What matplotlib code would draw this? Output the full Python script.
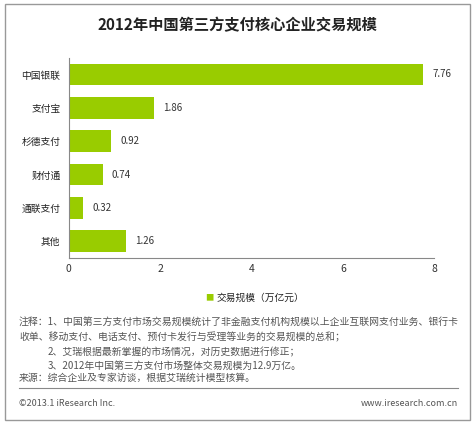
import matplotlib
matplotlib.use("Agg")
import matplotlib.pyplot as plt
from matplotlib.patches import Rectangle
from matplotlib.lines import Line2D

plt.rcParams['font.family'] = ['Noto Sans CJK SC', 'DejaVu Sans']

categories = ["中国银联", "支付宝", "杉德支付", "财付通", "通联支付", "其他"]
values = [7.76, 1.86, 0.92, 0.74, 0.32, 1.26]
xticks = [0, 2, 4, 6, 8]
green = "#99CC00"
gray = "#555555"

fig = plt.figure(figsize=(4.75, 4.25), dpi=100)
fig.patches.append(Rectangle((0.01, 0.012), 0.98, 0.978, transform=fig.transFigure,
                             fill=False, edgecolor="#999999", lw=1))
fig.text(0.5, 0.94, "2012年中国第三方支付核心企业交易规模", ha="center", va="center",
         fontsize=11, fontweight="bold", color="#222222")

ax = fig.add_axes([0.145, 0.393, 0.769, 0.471])
y = list(range(len(categories)))
ax.barh(y, values, height=0.65, color=green)
ax.set_xlim(0, 8)
ax.set_ylim(5.5, -0.5)
ax.set_xticks(xticks)
ax.set_yticks(y)
ax.set_yticklabels(categories, fontsize=7, color="#222222")
ax.tick_params(axis='x', labelsize=7.5, colors="#333333", length=0, pad=4)
ax.tick_params(axis='y', length=0, pad=6)
for s in ["top", "right"]:
    ax.spines[s].set_visible(False)
for s in ["left", "bottom"]:
    ax.spines[s].set_color("#888888")
for yi, v in zip(y, values):
    ax.text(v + 0.2, yi, f"{v:.2f}", va="center", ha="left", fontsize=7, color="#333333")

fig.text(0.44, 0.299, "■", color=green, fontsize=6, ha="center", va="center")
fig.text(0.455, 0.299, "交易规模（万亿元）", fontsize=7, ha="left", va="center", color="#222222")

notes = [
    (0.04, 0.242, "注释：1、中国第三方支付市场交易规模统计了非金融支付机构规模以上企业互联网支付业务、银行卡"),
    (0.04, 0.207, "收单、移动支付、电话支付、预付卡发行与受理等业务的交易规模的总和；"),
    (0.10, 0.172, "2、艾瑞根据最新掌握的市场情况，对历史数据进行修正；"),
    (0.10, 0.139, "3、2012年中国第三方支付市场整体交易规模为12.9万亿。"),
    (0.04, 0.110, "来源：综合企业及专家访谈，根据艾瑞统计模型核算。"),
]
for xx, yy, t in notes:
    fig.text(xx, yy, t, fontsize=7.1, color=gray, ha="left", va="center")
fig.add_artist(Line2D([0.04, 0.965], [0.086, 0.086], transform=fig.transFigure, color="#888888", lw=0.8))
fig.text(0.04, 0.05, "©2013.1 iResearch Inc.", fontsize=6.5, color=gray, va="center")
fig.text(0.965, 0.05, "www.iresearch.com.cn", fontsize=6.5, color=gray, va="center", ha="right")

fig.savefig("out.png", dpi=100)
